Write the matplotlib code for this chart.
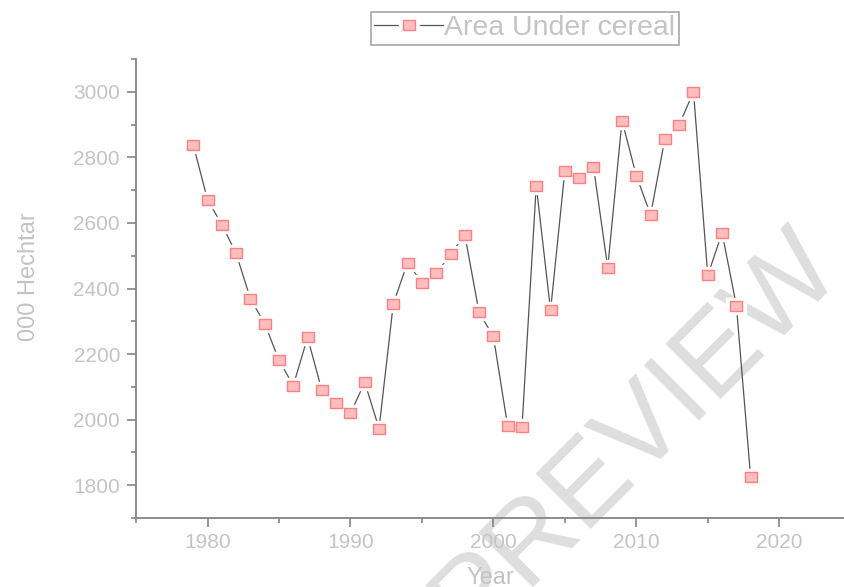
import matplotlib.pyplot as plt
from matplotlib.ticker import MultipleLocator
from matplotlib.legend_handler import HandlerTuple

# area under cereal, thousand hectares
years = list(range(1979, 2019))
area = [2839, 2671, 2595, 2507, 2369, 2293, 2181, 2104, 2251, 2089,
        2050, 2019, 2114, 1973, 2354, 2479, 2418, 2446, 2504, 2564,
        2327, 2254, 1980, 1977, 2714, 2333, 2759, 2738, 2772, 2464,
        2912, 2744, 2625, 2857, 2899, 3000, 2440, 2570, 2348, 1824]

x_label = "Year"
y_label = "000 Hechtar"
series_name = "Area Under cereal"

text_grey = '#c4c4c4'
axis_grey = '#858585'
plt.rcParams['font.family'] = ['Liberation Sans', 'DejaVu Sans']

fig = plt.figure(figsize=(8.45, 5.87), dpi=100)
ax = fig.add_axes([0.161, 0.1175, 0.839, 0.782])
ax.set_facecolor('none')

# watermark behind the plot
fig.text(0.752, 0.262, "PREVIEW", fontsize=82, color='#dedede', rotation=45,
         ha='center', va='center', zorder=-1)

rect = [(-1.2, -1), (1.2, -1), (1.2, 1), (-1.2, 1), (-1.2, -1)]

line, = ax.plot(years, area, color='#555555', lw=0.9, zorder=2)
# white halo so the line stops short of the symbols
halo, = ax.plot(years, area, ls='none', marker=rect, ms=14, mfc='white',
                mec='white', zorder=3)
marks, = ax.plot(years, area, ls='none', marker=rect, ms=8.8, mfc='#ffbdbd',
                 mec='#ff8080', mew=1.0, zorder=4)

ax.set_xlim(1975, 2024.6)
ax.set_ylim(1700, 3100)
ax.xaxis.set_major_locator(MultipleLocator(10))
ax.xaxis.set_minor_locator(MultipleLocator(5))
ax.yaxis.set_major_locator(MultipleLocator(200))
ax.yaxis.set_minor_locator(MultipleLocator(100))

for side in ['top', 'right']:
    ax.spines[side].set_visible(False)
for side in ['left', 'bottom']:
    ax.spines[side].set_color(axis_grey)
    ax.spines[side].set_linewidth(1.3)

ax.tick_params(which='major', length=6.5, width=1.2, color=axis_grey,
               labelcolor=text_grey, labelsize=15)
ax.tick_params(which='minor', length=3.5, width=1.2, color=axis_grey)
ax.tick_params(axis='y', which='major', pad=5)
ax.tick_params(axis='x', which='major', pad=4)

ax.set_xlabel(x_label, fontsize=17, color=text_grey, labelpad=11)
ax.set_ylabel(y_label, fontsize=17, color=text_grey)
ax.yaxis.set_label_coords(-0.135, 0.525)

leg = fig.legend([(line, halo, marks)], [series_name], loc='upper center',
                 handler_map={tuple: HandlerTuple(ndivide=1)},
                 bbox_to_anchor=(0.621, 0.98), fontsize=20.5, frameon=True,
                 fancybox=False, handlelength=2.4, handletextpad=0.05,
                 borderpad=0.12, borderaxespad=0)
leg.get_frame().set_edgecolor('#9a9a9a')
leg.get_frame().set_linewidth(1.3)
for t in leg.get_texts():
    t.set_color(text_grey)

fig.savefig("out.png", dpi=100)
